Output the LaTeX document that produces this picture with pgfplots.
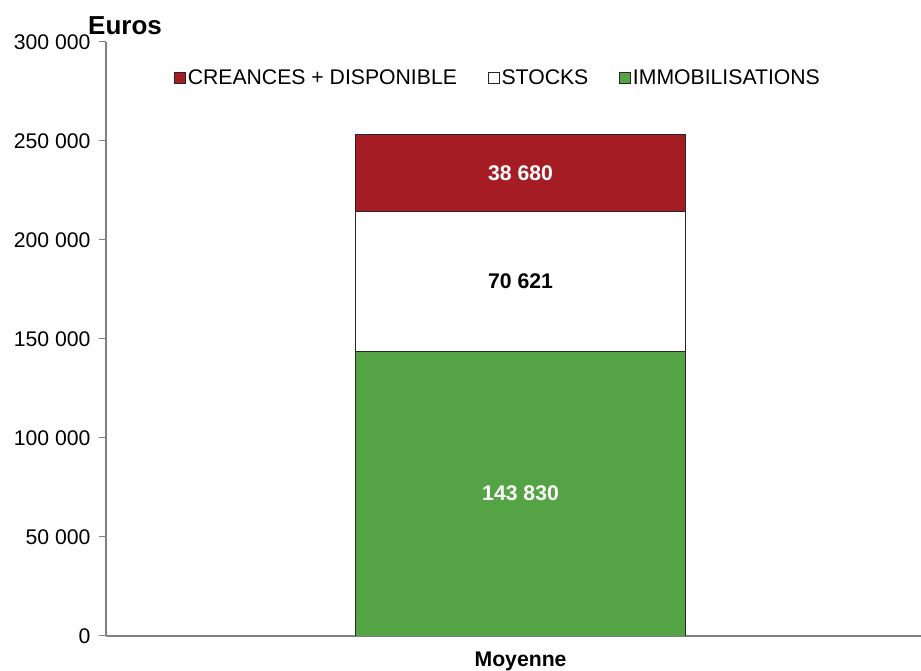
\documentclass[border=0pt]{standalone}
\usepackage{pgfplots}
\pgfplotsset{compat=1.18}
\usepackage{fontspec}
\setmainfont{Liberation Sans}
\definecolor{cred}{RGB}{165,28,36}
\definecolor{cgreen}{RGB}{84,163,68}
\definecolor{axgray}{RGB}{128,128,128}
\begin{document}
\begin{tikzpicture}
\useasboundingbox (-106pt,-35pt) rectangle (815pt,636pt);
\begin{axis}[
  at={(0pt,0pt)}, anchor=south west,
  scale only axis, width=815pt, height=594pt,
  ybar stacked, bar width=330pt,
  xmin=-1, xmax=0.966,
  ymin=0, ymax=300000,
  ytick={0,50000,100000,150000,200000,250000,300000},
  axis x line*=bottom, axis y line*=left,
  axis line style={axgray, line width=1.3pt},
  tick align=outside, major tick length=7pt,
  y tick style={axgray, line width=1pt},
  xtick={0}, xticklabels={\textbf{Moyenne}},
  x tick style={draw=none},
  xticklabel style={yshift=-5pt},
  scaled y ticks=false,
  tick label style={font=\fontsize{21.2}{25}\selectfont},
  yticklabel style={xshift=-5pt, /pgf/number format/.cd, fixed, 1000 sep={\ }, assume math mode=true},
  legend style={at={(0.481,0.939)}, anchor=center, draw=none, fill=none,
    legend columns=-1, font=\fontsize{21.2}{25}\selectfont,
    /tikz/every even column/.append style={column sep=29pt}},
  legend image code/.code={\draw[#1, line width=0.6pt] (0pt,-5.5pt) rectangle (11pt,5.5pt);},
  reverse legend,
]
\addplot[fill=cgreen, draw=black!85, line width=0.8pt] coordinates {(0,143830)};
\addlegendentry{IMMOBILISATIONS}
\addplot[fill=white, draw=black!85, line width=0.8pt] coordinates {(0,70621)};
\addlegendentry{STOCKS}
\addplot[fill=cred, draw=black!85, line width=0.8pt] coordinates {(0,38680)};
\addlegendentry{CREANCES + DISPONIBLE}
\coordinate (lg) at (axis cs:0,71915);
\coordinate (lw) at (axis cs:0,179140);
\coordinate (lr) at (axis cs:0,233791);
\end{axis}
\node[text=white, font=\bfseries\fontsize{21.2}{25}\selectfont] at (lg) {143 830};
\node[text=black, font=\bfseries\fontsize{21.2}{25}\selectfont] at (lw) {70 621};
\node[text=white, font=\bfseries\fontsize{21.2}{25}\selectfont] at (lr) {38 680};
\node[anchor=base west, font=\bfseries\fontsize{26}{30}\selectfont, inner sep=0pt] at (-18pt,601pt) {Euros};
\end{tikzpicture}
\end{document}
